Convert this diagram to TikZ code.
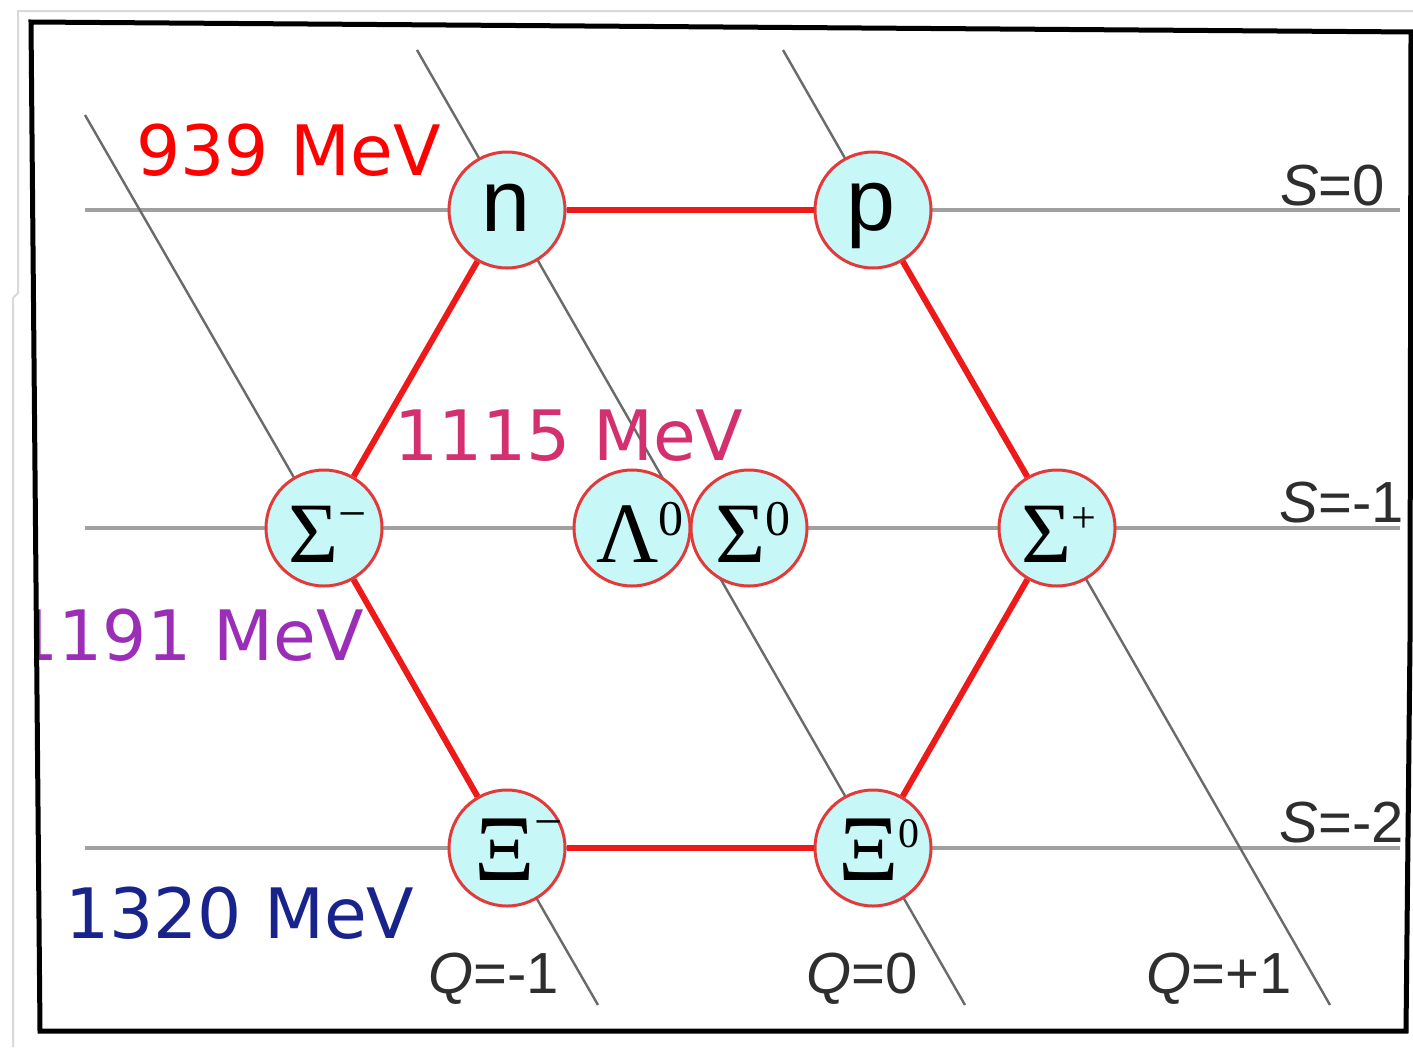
\documentclass[tikz,border=0pt]{standalone}
\usepackage{fontspec}
\setmainfont{Liberation Sans}
\newfontfamily\dejavu{DejaVu Sans}
\newfontfamily\serifg{Liberation Serif}
\definecolor{cfill}{HTML}{C8F7F7}
\definecolor{cedge}{HTML}{E23A3A}
\definecolor{redline}{HTML}{EE1A1A}
\definecolor{hgrey}{HTML}{A0A0A0}
\definecolor{dgrey}{HTML}{6A6A6A}
\definecolor{mevA}{HTML}{FF0000}
\definecolor{mevB}{HTML}{D42F6E}
\definecolor{mevC}{HTML}{9B2EB6}
\definecolor{mevD}{HTML}{18248C}
\tikzset{
  particle/.style={circle, draw=cedge, line width=3pt, fill=cfill, minimum size=116pt, inner sep=0pt},
  edgeline/.style={draw=redline, line width=6pt},
  sline/.style={draw=hgrey, line width=3.5pt},
  qline/.style={draw=dgrey, line width=2.4pt},
  mev/.style={inner sep=0pt, font=\dejavu\fontsize{69.5}{70}\selectfont},
  axlab/.style={inner sep=0pt, text=black!82, font=\fontsize{58}{60}\selectfont},
  glab/.style={inner sep=0pt, anchor=base west, font=\serifg\fontsize{86}{86}\selectfont},
  slab/.style={inner sep=0pt, font=\fontsize{88}{88}\selectfont}
}
\newcommand{\supz}[2]{\raisebox{#1pt}{\fontsize{#2}{#2}\selectfont 0}}
\newcommand{\supm}[1]{\raisebox{#1pt}{\fontsize{50}{50}\selectfont −}}
\newcommand{\supp}[1]{\raisebox{#1pt}{\fontsize{44}{44}\selectfont +}}
\begin{document}
\begin{tikzpicture}[x=1pt,y=-1pt]
\useasboundingbox (0,0) rectangle (1413,1047);
\fill[white] (0,0) rectangle (1413,1047);
% outer paper edge
\draw[black!15, line width=2pt] (13,1047) -- (13,298) -- (18,293) -- (18,11) -- (1413,11);
% S lines
\coordinate (s0a) at (85,210);  \coordinate (s0b) at (1400,210);
\coordinate (s1a) at (85,528);  \coordinate (s1b) at (1400,528);
\coordinate (s2a) at (85,848);  \coordinate (s2b) at (1400,848);
\draw[sline] (s0a) -- (s0b);
\draw[sline] (s1a) -- (s1b);
\draw[sline] (s2a) -- (s2b);
% Q lines
\coordinate (qAa) at (85,115);  \coordinate (qAb) at (598,1005);
\coordinate (qBa) at (417,50);  \coordinate (qBb) at (965,1005);
\coordinate (qCa) at (783,50);  \coordinate (qCb) at (1330,1005);
\draw[qline] (qAa) -- (qAb);
\draw[qline] (qBa) -- (qBb);
\draw[qline] (qCa) -- (qCb);
% particles
\node[particle] (n) at (507,210) {};
\node[particle] (p) at (873,210) {};
\node[particle] (sm) at (324,528) {};
\node[particle] (l0) at (632,528) {};
\node[particle] (s0) at (749,528) {};
\node[particle] (sp) at (1057,528) {};
\node[particle] (xm) at (507,848) {};
\node[particle] (x0) at (873,848) {};
% hexagon edges
\draw[edgeline] (n) -- (p);
\draw[edgeline] (p) -- (sp);
\draw[edgeline] (sp) -- (x0);
\draw[edgeline] (x0) -- (xm);
\draw[edgeline] (xm) -- (sm);
\draw[edgeline] (sm) -- (n);
% particle labels
\node[slab] (nl) at (506,208) {n};
\node[slab] (pl) at (871,216) {p};
\node[glab] (sml) at (288,562) {Σ\supm{32}};
\node[glab] (l0l) at (596,562) {Λ\supz{27}{50}};
\node[glab] (s0l) at (715,562) {Σ\supz{27}{50}};
\node[glab] (spl) at (1021,562) {Σ\supp{30}};
\node[glab, font=\serifg\fontsize{94}{94}\selectfont] (xml) at (474,880) {Ξ\supm{42}};
\node[glab, font=\serifg\fontsize{94}{94}\selectfont] (x0l) at (838,880) {Ξ\supz{33}{42}};
% axis labels
\node[axlab, anchor=base east] (S0) at (1385,205) {\textit{S}=0};
\node[axlab, anchor=base east] (S1) at (1404,522) {\textit{S}=-1};
\node[axlab, anchor=base east] (S2) at (1404,842) {\textit{S}=-2};
\node[axlab, anchor=base west] (Q1) at (428,993) {\textit{Q}=-1};
\node[axlab, anchor=base west] (Q2) at (806,993) {\textit{Q}=0};
\node[axlab, anchor=base west] (Q3) at (1146,993) {\textit{Q}=+1};
% mass labels
\node[mev, text=mevA, anchor=base west] (m939) at (136,175) {939 MeV};
\node[mev, text=mevB, anchor=base west] (m1115) at (394,460) {1115 MeV};
\begin{scope}
\clip (34,0) rectangle (1413,1047);
\node[mev, text=mevC, anchor=base east] (m1191) at (364,660) {1191 MeV};
\end{scope}
\node[mev, text=mevD, anchor=base west] (m1320) at (65,938) {1320 MeV};
% frame
\draw[black, line width=5pt] (1416,32) -- (31,22) -- (40,1031) -- (1406,1031) -- (1410,640) -- (1411,32);
\end{tikzpicture}
\end{document}
